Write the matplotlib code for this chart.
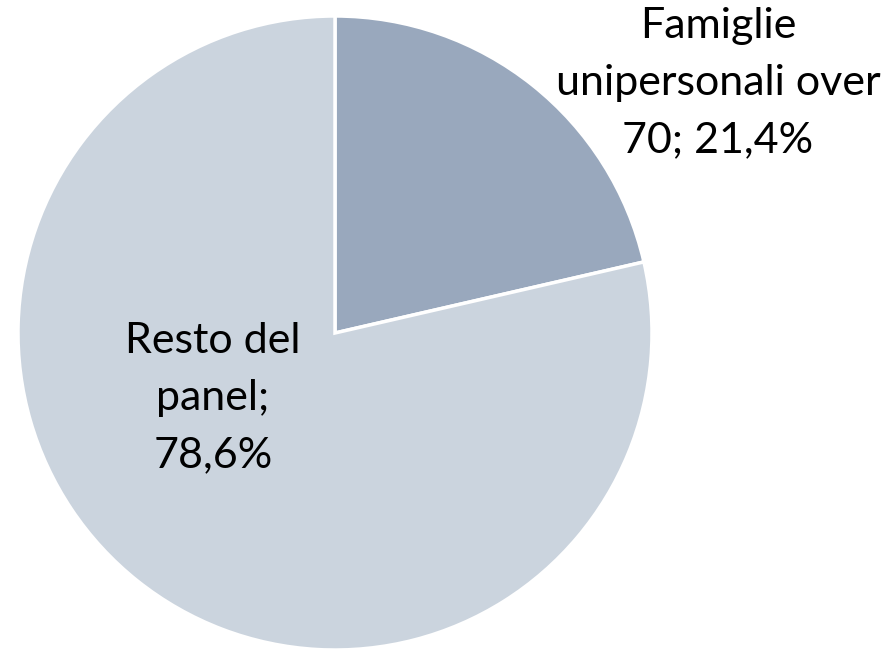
import matplotlib.pyplot as plt
import matplotlib

matplotlib.rc('font', family=['Lato', 'DejaVu Sans'])

labels = ['Famiglie\nunipersonali over\n70; 21,4%', 'Resto del\npanel;\n78,6%']
shares = [21.4, 78.6]
colors = ['#99a8bd', '#cbd4de']
label_pos = [(383, 250), (-122, -65)]

fig = plt.figure(figsize=(8.95, 6.49), dpi=100)
ax = fig.add_axes([0, 0, 1, 1])
ax.pie(shares, colors=colors, startangle=90, counterclock=False, radius=317,
       wedgeprops=dict(edgecolor='white', linewidth=2.5))
for lab, (x, y) in zip(labels, label_pos):
    ax.text(x, y, lab, ha='center', va='center', multialignment='center',
            fontsize=31, linespacing=1.62, color='black')
ax.set_xlim(-335, 560)
ax.set_ylim(-316, 333)
ax.set_aspect('equal')
ax.axis('off')
fig.savefig('out.png', dpi=100)
